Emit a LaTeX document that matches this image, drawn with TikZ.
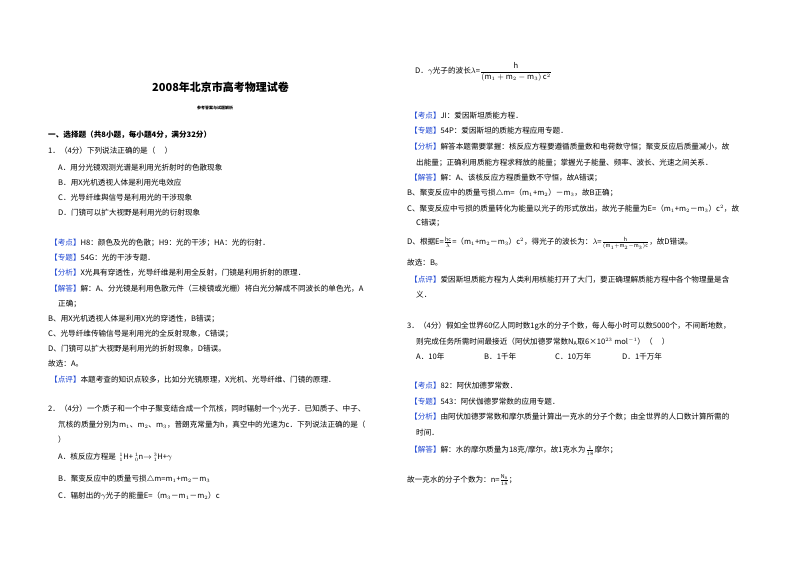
\documentclass[tikz,border=0pt]{standalone}
\usepackage{fontspec}
\setmainfont{Noto Sans CJK SC}
\definecolor{tagblue}{RGB}{30,70,210}
\newcommand{\tg}[1]{\textcolor{tagblue}{【#1】}}
\tikzset{t/.style={anchor=west,inner sep=0pt,font=\fontsize{7.6}{9}\selectfont}}
\begin{document}
\begin{tikzpicture}[x=1pt,y=-1pt]
\useasboundingbox[fill=white] (0,0) rectangle (800,565);
% left column
\node[t,font=\fontsize{11}{12}\bfseries] (ti) at (152,87) {2008年北京市高考物理试卷};
\node[t,font=\fontsize{4}{5}\bfseries] (st) at (197,108) {参考答案与试题解析};
\node[t,font=\fontsize{7.6}{9}\bfseries] (l1) at (48,135) {一、选择题（共8小题，每小题4分，满分32分）};
\node[t] (l2) at (48,151) {1．（4分）下列说法正确的是（\quad\ ）};
\node[t] (l3) at (58,168) {A．用分光镜观测光谱是利用光折射时的色散现象};
\node[t] (l4) at (58,183) {B．用X光机透视人体是利用光电效应};
\node[t] (l5) at (58,198) {C．光导纤维舆信号是利用光的干涉现象};
\node[t] (l6) at (58,213) {D．门镜可以扩大视野是利用光的衍射现象};
\node[t] (l7) at (50,243) {\tg{考点}H8：颜色及光的色散；H9：光的干涉；HA：光的衍射．};
\node[t] (l8) at (50,258) {\tg{专题}54G：光的干涉专题．};
\node[t] (l9) at (50,273) {\tg{分析}X光具有穿透性，光导纤维是利用全反射，门镜是利用折射的原理．};
\node[t] (l10) at (50,289) {\tg{解答}解：A、分光镜是利用色散元件（三棱镜或光栅）将白光分解成不同波长的单色光，A};
\node[t] (l11) at (58,304) {正确；};
\node[t] (l12) at (48,319) {B、用X光机透视人体是利用X光的穿透性，B错误；};
\node[t] (l13) at (48,334) {C、光导纤维传输信号是利用光的全反射现象，C错误；};
\node[t] (l14) at (48,349) {D、门镜可以扩大视野是利用光的折射现象，D错误。};
\node[t] (l15) at (48,364) {故选：A。};
\node[t] (l16) at (50,380) {\tg{点评}本题考查的知识点较多，比如分光镜原理，X光机、光导纤维、门镜的原理．};
\node[t] (l17) at (48,409) {2．（4分）一个质子和一个中子聚变结合成一个氘核，同时辐射一个$\gamma$光子．已知质子、中子、};
\node[t] (l18) at (58,425) {氘核的质量分别为m$_1$、m$_2$、m$_3$，普朗克常量为h，真空中的光速为c．下列说法正确的是（};
\node[t] (l19) at (58,440) {）};
\node[t] (l20) at (58,457) {A．核反应方程是\ \ ${}^1_1$H+\ ${}^1_0$n$\rightarrow$\ ${}^3_1$H+$\gamma$};
\node[t] (l21) at (58,479) {B．聚变反应中的质量亏损$\triangle$m=m$_1$+m$_2$－m$_3$};
\node[t] (l22) at (58,496) {C．辐射出的$\gamma$光子的能量E=（m$_3$－m$_1$－m$_2$）c};
% right column
\node[t] (r1) at (415,72) {D．$\gamma$光子的波长$\lambda$=$\displaystyle\frac{\mathrm{h}}{(\mathrm{m}_1+\mathrm{m}_2-\mathrm{m}_3)\,\mathrm{c}^2}$};
\node[t] (r2) at (410,116) {\tg{考点}JI：爱因斯坦质能方程．};
\node[t] (r3) at (410,131) {\tg{专题}54P：爱因斯坦的质能方程应用专题．};
\node[t] (r4) at (410,147) {\tg{分析}解答本题需要掌握：核反应方程要遵循质量数和电荷数守恒；聚变反应后质量减小，故};
\node[t] (r5) at (416,163) {出能量；正确利用质能方程求释放的能量；掌握光子能量、频率、波长、光速之间关系．};
\node[t] (r6) at (410,178) {\tg{解答}解：A、该核反应方程质量数不守恒，故A错误；};
\node[t] (r7) at (407,193) {B、聚变反应中的质量亏损$\triangle$m=（m$_1$+m$_2$）－m$_3$，故B正确；};
\node[t] (r8) at (407,209) {C、聚变反应中亏损的质量转化为能量以光子的形式放出，故光子能量为E=（m$_1$+m$_2$－m$_3$）c$^2$，故};
\node[t] (r9) at (416,223) {C错误；};
\node[t] (r10) at (407,243) {D、根据E=$\frac{\mathrm{hc}}{\lambda}$=（m$_1$+m$_2$－m$_3$）c$^2$，得光子的波长为：$\lambda$=$\frac{\mathrm{h}}{(\mathrm{m}_1+\mathrm{m}_2-\mathrm{m}_3)\mathrm{c}}$，故D错误。};
\node[t] (r11) at (407,263) {故选：B。};
\node[t] (r12) at (410,280) {\tg{点评}爱因斯坦质能方程为人类利用核能打开了大门，要正确理解质能方程中各个物理量是含};
\node[t] (r13) at (416,295) {义．};
\node[t] (r14) at (407,326) {3．（4分）假如全世界60亿人同时数1g水的分子个数，每人每小时可以数5000个，不间断地数，};
\node[t] (r15) at (416,342) {则完成任务所需时间最接近（阿伏加德罗常数N$_\mathrm{A}$取6×10$^{23}$ mol$^{-1}$）（\quad\ ）};
\node[t] (r16) at (416,357) {A．10年};
\node[t] (r17) at (484,357) {B．1千年};
\node[t] (r18) at (555,357) {C．10万年};
\node[t] (r19) at (622,357) {D．1千万年};
\node[t] (r20) at (410,386) {\tg{考点}82：阿伏加德罗常数．};
\node[t] (r21) at (410,402) {\tg{专题}543：阿伏伽德罗常数的应用专题．};
\node[t] (r22) at (410,417) {\tg{分析}由阿伏加德罗常数和摩尔质量计算出一克水的分子个数；由全世界的人口数计算所需的};
\node[t] (r23) at (416,433) {时间．};
\node[t] (r24) at (410,451) {\tg{解答}解：水的摩尔质量为18克/摩尔，故1克水为$\frac{1}{18}$摩尔；};
\node[t] (r25) at (407,480) {故一克水的分子个数为：n=$\frac{\mathrm{N_A}}{18}$；};
\end{tikzpicture}
\end{document}
